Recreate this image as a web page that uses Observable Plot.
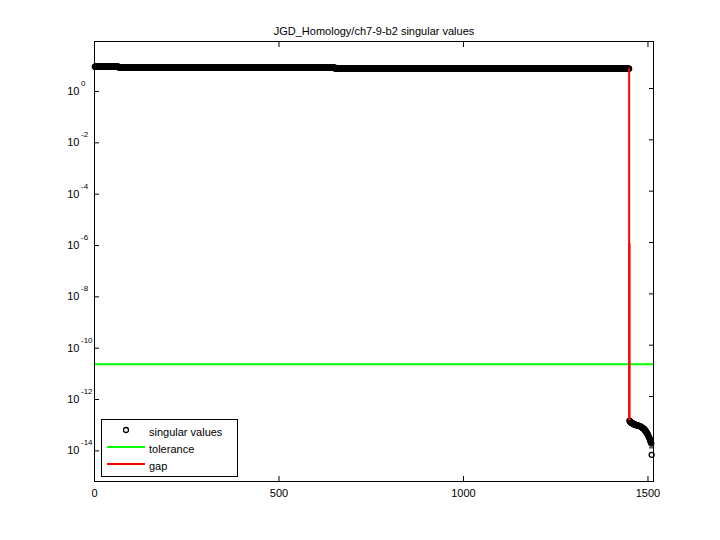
<!DOCTYPE html>
<html><head><meta charset="utf-8">
<script src="https://cdn.jsdelivr.net/npm/d3@7"></script>
<script src="https://cdn.jsdelivr.net/npm/@observablehq/plot@0.6"></script>
<style>
body{margin:0;background:#fff}
svg{font-family:"Liberation Sans",Arial,Helvetica,sans-serif}
</style>
</head><body><div id="chart"></div>
<script>
// ---- data ----
const title = "JGD_Homology/ch7-9-b2 singular values";
// leading (large) singular values: constant runs, value and last index of each run
const headLevels = [7.1, 6.5, 5.9];
const headRunEnds = [65, 652, 1449];
// trailing (tiny) singular values, log10, starting at index 1450
const tailStart = 1450;
const tailLog10 = [
  -12.94,-12.96,-12.98,-13.00,-13.01,-13.02,-13.03,-13.04,-13.05,-13.05,
  -13.06,-13.07,-13.08,-13.09,-13.09,-13.10,-13.10,-13.11,-13.11,-13.12,
  -13.12,-13.12,-13.13,-13.13,-13.13,-13.14,-13.14,-13.15,-13.15,-13.16,
  -13.17,-13.18,-13.19,-13.20,-13.21,-13.22,-13.23,-13.24,-13.25,-13.26,
  -13.27,-13.29,-13.31,-13.33,-13.36,-13.38,-13.40,-13.42,-13.45,-13.47,
  -13.50,-13.53,-13.56,-13.59,-13.62,-13.66,-13.70,-13.74,-13.78,-13.83,
  -14.27
];
const tolerance = 1.8e-11;
const gapX = [1449, 1450];
const gapTop = [5.9, 9e-7];
const gapBottom = [1.15e-13, 1.15e-13];
const xTicks = [0, 500, 1000, 1500];
const yTickExp = [-14, -12, -10, -8, -6, -4, -2, 0];
const legendLabels = ["singular values", "tolerance", "gap"];
const legendColors = ["#000000", "#00ff00", "#ff0000"];
const xDomain = [0, 1515];
const yDomain = [Math.pow(10, -15.31), Math.pow(10, 1.83)];

// ---- build tables ----
const points = [];
let start = 1;
headLevels.forEach((v, k) => {
  for (let i = start; i <= headRunEnds[k]; i++) points.push({i, s: v});
  start = headRunEnds[k] + 1;
});
tailLog10.forEach((lv, k) => points.push({i: tailStart + k, s: Math.pow(10, lv)}));
const gaps = gapX.map((x, k) => ({x, y1: gapTop[k], y2: gapBottom[k]}));
const yTicks = yTickExp.map(e => Math.pow(10, e));

const svg = Plot.plot({
  width: 720,
  height: 540,
  marginLeft: 94,
  marginRight: 67,
  marginTop: 41,
  marginBottom: 59,
  style: {fontSize: "11px", fontFamily: '"Liberation Sans", Arial, Helvetica, sans-serif', color: "#000", background: "#fff"},
  x: {domain: xDomain},
  y: {type: "log", domain: yDomain},
  marks: [
    Plot.dot(points, {x: "i", y: "s", r: 2.5, stroke: "#000", strokeWidth: 1.3, fill: "none"}),
    Plot.ruleY([tolerance], {stroke: legendColors[1], strokeWidth: 2}),
    Plot.ruleX(gaps, {x: "x", y1: "y1", y2: "y2", stroke: legendColors[2], strokeWidth: 2}),
    Plot.frame({stroke: "#000", strokeWidth: 1}),
    Plot.axisX({anchor: "bottom", ticks: xTicks, tickSize: -5, tickPadding: 13, fill: "#000", stroke: "#000", tickFormat: d => String(d)}),
    Plot.axisX({anchor: "top", ticks: xTicks, tickSize: -5, stroke: "#000", tickFormat: () => ""}),
    Plot.axisY({anchor: "left", ticks: yTicks, tickSize: -5, tickPadding: 20, dy: 3, fill: "#000", stroke: "#000", tickFormat: () => "10"}),
    Plot.axisY({anchor: "right", ticks: yTicks, tickSize: -5, stroke: "#000", tickFormat: () => ""}),
    Plot.text(yTickExp, {y: e => Math.pow(10, e), text: e => String(e), frameAnchor: "left", lineAnchor: "middle", dx: -13.5, dy: -5, textAnchor: "start", fontSize: 8, fill: "#000"}),
    Plot.text([title], {frameAnchor: "top", lineAnchor: "middle", dy: -10.5, fontSize: 11, fill: "#000"})
  ]
});

// legend box (MATLAB style, lower left inside the axes)
const lg = d3.select(svg).append("g").attr("class", "legend").attr("text-anchor", "start");
lg.append("rect").attr("x", 101.5).attr("y", 419.5).attr("width", 136).attr("height", 57)
  .attr("fill", "#fff").attr("stroke", "#000");
legendLabels.forEach((lab, k) => {
  const cy = 430 + k * 17;
  if (k === 0) {
    lg.append("circle").attr("cx", 126).attr("cy", cy).attr("r", 2.5)
      .attr("fill", "none").attr("stroke", legendColors[0]).attr("stroke-width", 1.3);
  } else {
    lg.append("line").attr("x1", 107).attr("x2", 145).attr("y1", cy).attr("y2", cy)
      .attr("stroke", legendColors[k]).attr("stroke-width", 2);
  }
  lg.append("text").attr("x", 149).attr("y", cy + 6).attr("text-anchor", "start")
    .attr("font-size", 11).attr("fill", "#000").text(lab);
});

document.getElementById("chart").appendChild(svg);
</script>
</body></html>
